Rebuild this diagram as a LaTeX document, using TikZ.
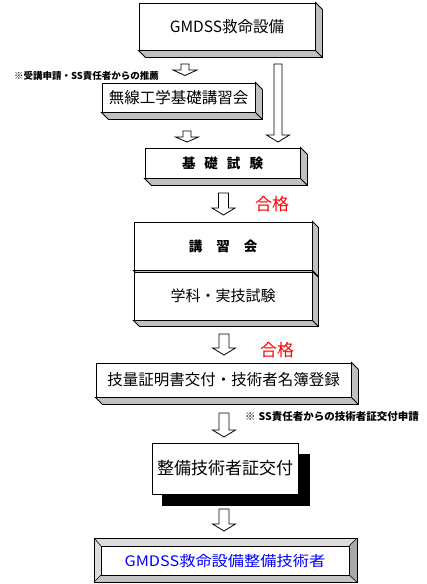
\documentclass[tikz,border=0pt]{standalone}
\usepackage{fontspec}
\newfontfamily\jp{Noto Sans CJK JP}
\usetikzlibrary{calc}
\definecolor{bevelgray}{HTML}{C0C0C0}
\definecolor{lightbevel}{HTML}{DCDCDC}
\definecolor{darkbevel}{HTML}{A8A8A8}
\definecolor{midbevel}{HTML}{C4C4C4}
\definecolor{jpred}{HTML}{FF0000}
\definecolor{jpblue}{HTML}{0000FF}
\tikzset{
  face/.style={draw=black, fill=white, line width=0.9pt, inner sep=0pt, font=\jp},
  bevelfill/.style={draw=black, fill=bevelgray, line width=0.9pt, line join=miter},
  blockarrow/.style={draw=black, fill=white, line width=0.8pt, line join=miter},
  note/.style={inner sep=0pt, font=\jp\bfseries\fontsize{9.5}{11}\selectfont},
  pass/.style={inner sep=0pt, text=jpred, font=\jp\fontsize{17}{20}\selectfont},
}
\newcommand{\bevel}[2]{%
  \draw[bevelfill] (#1.north east) -- ++(#2,#2) -- ($(#1.south east)+(#2,#2)$)
    -- ($(#1.south west)+(#2,#2)$) -- (#1.south west) -- (#1.south east) -- cycle;
  \draw[line width=0.9pt] (#1.south east) -- ++(#2,#2);}
\newcommand{\harrow}[6]{%
  \draw[blockarrow] (#1-#5,#2) -- (#1+#5,#2) -- (#1+#5,#3) -- (#1+#6,#3) -- (#1,#4)
    -- (#1-#6,#3) -- (#1-#5,#3) -- cycle;}
\begin{document}
\begin{tikzpicture}[x=1pt,y=-1pt]
\useasboundingbox (0,0) rectangle (426,584);

% Box 1
\node[face, minimum width=176pt, minimum height=47pt, font=\jp\fontsize{15.5}{18}\selectfont] (b1) at (227,26.5) {GMDSS救命設備};
\bevel{b1}{7}

% arrows from box 1
\harrow{185}{64}{70}{75.5}{4}{12}
\harrow{278}{64}{135}{142}{4}{11.5}

\node[note] (n1) at (86.5,76) {※受講申請・SS責任者からの推薦};

% Box 2
\node[face, minimum width=153pt, minimum height=29pt, font=\jp\fontsize{15.5}{18}\selectfont] (b2) at (178.5,97.5) {無線工学基礎講習会};
\bevel{b2}{7}

\harrow{187}{131}{137}{142}{4}{11.5}

% Box 3
\node[face, minimum width=155pt, minimum height=30pt, font=\jp\bfseries\fontsize{13.5}{16}\selectfont] (b3) at (222.5,163) {基\kern9pt 礎\kern9pt 試\kern9pt 験};
\bevel{b3}{7}

\harrow{223.5}{193}{208}{215}{5}{11.5}
\node[pass] (p1) at (272,204) {合格};

% Box 4
\node[face, minimum width=178pt, minimum height=48pt, font=\jp\bfseries\fontsize{13.5}{16}\selectfont] (b4a) at (223,246) {講\kern14pt 習\kern14pt 会};
\bevel{b4a}{6}
\node[face, minimum width=178pt, minimum height=48pt, font=\jp\fontsize{15}{18}\selectfont] (b4b) at (223,296) {学科・実技試験};
\bevel{b4b}{6}

\harrow{224}{334}{348}{355}{5}{11.5}
\node[pass] (p2) at (277,350) {合格};

% Box 5
\node[face, minimum width=255pt, minimum height=34pt, font=\jp\fontsize{15.5}{18}\selectfont] (b5) at (223.5,380) {技量証明書交付・技術者名簿登録};
\bevel{b5}{7}

\node[note, font=\jp\bfseries\fontsize{10.5}{12}\selectfont] (n2) at (332,417) {※\kern3pt SS責任者からの技術者証交付申請};

\harrow{224}{413}{430}{437}{5}{11.5}

% Box 6 with black shadow
\fill[black] (162,454) rectangle (310,506);
\node[face, minimum width=146pt, minimum height=51pt, font=\jp\fontsize{17}{20}\selectfont] (b6) at (225,468.5) {整備技術者証交付};

\harrow{224}{509}{524}{531}{5}{11.5}

% Box 7 framed
\fill[lightbevel] (94,538) -- (357,538) -- (349,546) -- (101,546) -- cycle;
\fill[lightbevel] (94,538) -- (101,546) -- (101,575) -- (94,582) -- cycle;
\fill[darkbevel] (357,538) -- (357,582) -- (349,575) -- (349,546) -- cycle;
\fill[midbevel] (94,582) -- (101,575) -- (349,575) -- (357,582) -- cycle;
\draw[line width=0.9pt] (94,538) rectangle (357,582);
\draw[line width=0.6pt] (94,538) -- (101,546) (357,538) -- (349,546) (94,582) -- (101,575) (357,582) -- (349,575);
\node[face, minimum width=248pt, minimum height=29pt, text=jpblue, font=\jp\fontsize{14.5}{17}\selectfont] (b7) at (225,560.5) {\scalebox{1.12}[1]{GMDSS救命設備整備技術者}};
\end{tikzpicture}
\end{document}
